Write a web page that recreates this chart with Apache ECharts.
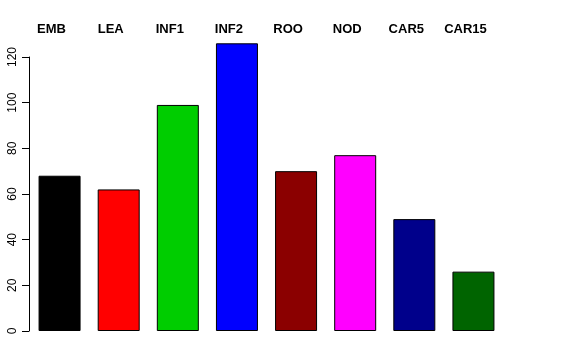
<!DOCTYPE html>
<html><head><meta charset="utf-8">
<script src="https://cdn.jsdelivr.net/npm/echarts@6/dist/echarts.min.js"></script>
<style>html,body{margin:0;padding:0;background:#fff}#c{width:576px;height:360px}</style>
</head><body><div id="c"></div>
<script>
const categories = ["EMB","LEA","INF1","INF2","ROO","NOD","CAR5","CAR15"];
const values = [68, 62, 99, 126, 70, 77, 49, 26];
const colors = ["#000000","#FF0000","#00CD00","#0000FF","#8B0000","#FF00FF","#00008B","#006400"];
const yTicks = [0, 20, 40, 60, 80, 100, 120];

const chart = echarts.init(document.getElementById('c'), null, {renderer:'canvas'});
chart.setOption({
  animation: false,
  backgroundColor: '#ffffff',
  grid: {left: 30, right: 73, top: 57, bottom: 29},
  xAxis: {
    type: 'category', data: categories, position: 'top',
    axisLine: {show: false}, axisTick: {show: false}, splitLine: {show: false},
    axisLabel: {
      interval: 0, margin: 21, color: '#000',
      fontFamily: 'Liberation Sans, Arial, sans-serif', fontWeight: 'bold', fontSize: 13,
      padding: [0, 16, 0, 0]
    }
  },
  yAxis: {
    type: 'value', min: yTicks[0], max: yTicks[yTicks.length-1], interval: 20, offset: 1,
    axisLine: {show: true, lineStyle: {color: '#000', width: 1}},
    axisTick: {show: true, length: 7, lineStyle: {color: '#000'}},
    splitLine: {show: false},
    axisLabel: {
      rotate: 90, margin: 10, color: '#000',
      fontFamily: 'Liberation Sans, Arial, sans-serif', fontSize: 12
    }
  },
  series: [{
    type: 'bar', barWidth: 42, clip: false,
    data: values.map((v, i) => ({value: v, itemStyle: {color: colors[i]}})),
    itemStyle: {borderColor: '#000', borderWidth: 1}
  }]
});
</script></body></html>
